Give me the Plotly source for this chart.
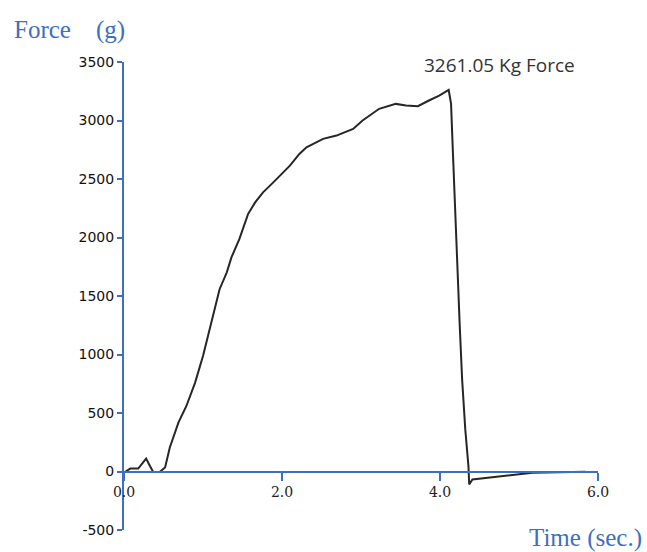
import plotly.graph_objects as go

time_s = [0.02, 0.08, 0.18, 0.28, 0.33, 0.37, 0.45, 0.52, 0.58, 0.69, 0.79, 0.90, 1.00, 1.13, 1.21, 1.30,
          1.36, 1.46, 1.57, 1.66, 1.76, 1.89, 2.05, 2.10, 2.22, 2.31, 2.52, 2.69, 2.90, 3.02, 3.23, 3.44, 3.57,
          3.72, 3.86, 3.99, 4.11, 4.14, 4.16, 4.19, 4.22, 4.25, 4.28, 4.32, 4.36, 4.37, 4.41, 4.62, 4.92,
          5.17, 5.84]
force_g = [0, 25, 25, 110, 45, -5, -5, 35, 205, 420, 560, 760, 987, 1330, 1558, 1700,
           1830, 1986, 2200, 2300, 2386, 2471, 2586, 2614, 2714, 2771, 2843, 2871, 2928, 3000, 3100, 3142, 3128,
           3122, 3171, 3213, 3261, 3142, 2785, 2215, 1729, 1244, 788, 360, 45, -111, -68, -54, -34,
           -11, -3]

x_ticks = [0, 2, 4, 6]
x_tick_text = ["0.0", "2.0", "4.0", "6.0"]
y_ticks = [-500, 0, 500, 1000, 1500, 2000, 2500, 3000, 3500]
y_tick_text = [str(v) for v in y_ticks]

peak_label = "3261.05 Kg Force"
y_title = "Force\u00a0\u00a0\u00a0\u00a0(g)"
x_title = "Time (sec.)"

axis_blue = "#3d6fc4"

fig = go.Figure()
fig.add_trace(go.Scatter(x=time_s, y=force_g, mode="lines",
                         line=dict(color="#262626", width=2), showlegend=False))

fig.update_layout(
    width=647, height=552,
    margin=dict(l=124, r=49, t=62, b=22),
    paper_bgcolor="white", plot_bgcolor="white",
    xaxis=dict(range=[0, 6], tickvals=x_ticks, ticktext=x_tick_text,
               showgrid=False, zeroline=False, showline=True, linecolor=axis_blue, linewidth=2,
               ticks="outside", ticklen=8, tickcolor=axis_blue, tickwidth=2,
               anchor="free", position=0.125,
               tickfont=dict(family="DejaVu Serif", size=14, color="#222")),
    yaxis=dict(range=[-500, 3500], tickvals=y_ticks, ticktext=y_tick_text,
               showgrid=False, zeroline=False, showline=True, linecolor=axis_blue, linewidth=2,
               ticks="outside", ticklen=5, tickcolor=axis_blue, tickwidth=2,
               tickfont=dict(family="DejaVu Sans", size=14, color="#111")),
    annotations=[
        dict(text=peak_label, xref="x", yref="y", x=4.75, y=3476, showarrow=False,
             yanchor="middle", font=dict(family="Open Sans", size=19, color="#333")),
        dict(text=y_title, xref="paper", yref="paper", x=-0.236, y=1.068, xanchor="left",
             yanchor="middle", showarrow=False,
             font=dict(family="Liberation Serif", size=25, color=axis_blue)),
        dict(text=x_title, xref="paper", yref="paper", x=0.850, y=-0.017, xanchor="left",
             yanchor="middle", showarrow=False,
             font=dict(family="Liberation Serif", size=25, color=axis_blue)),
    ],
)

fig.write_html("out.html")
